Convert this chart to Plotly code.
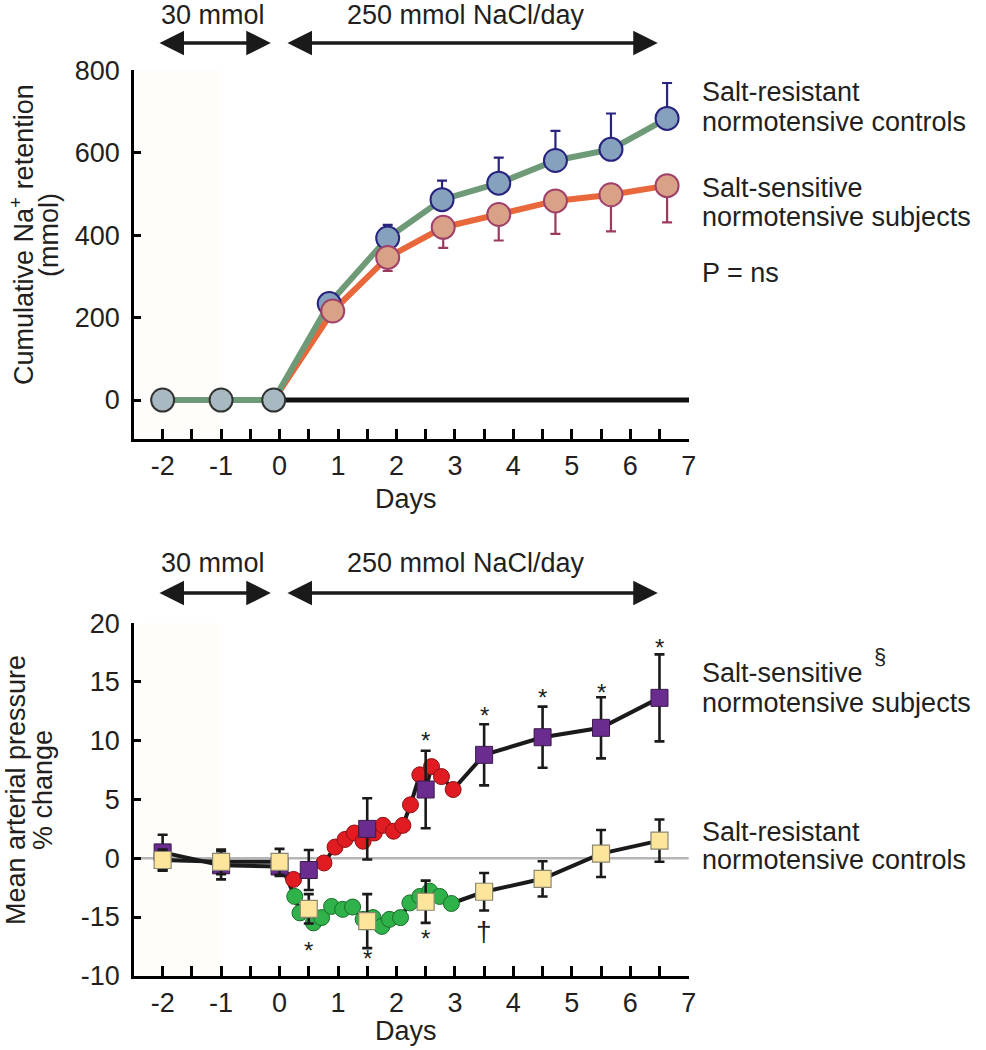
import plotly.graph_objects as go

# ---------------- Top panel: cumulative Na+ retention (mmol) ----------------
pre_days = [-2, -1, -0.1]
pre_vals = [0, 0, 0]
res_days = [0.85, 1.85, 2.78, 3.75, 4.72, 5.67, 6.63]
res_vals = [234, 393, 486, 526, 581, 608, 683]
res_err = [0, 32, 46, 62, 72, 87, 86]
sen_days = [0.91, 1.85, 2.80, 3.75, 4.72, 5.67, 6.63]
sen_vals = [216, 346, 419, 450, 483, 498, 520]
sen_err = [0, 33, 50, 63, 80, 89, 89]
baseline_days = [0, 7.1]
baseline_vals = [0, 0]
top_tickvals = [0, 200, 400, 600, 800]

# ---------------- Bottom panel: mean arterial pressure % change ----------------
sq_days = [-2, -1, 0, 0.5, 1.5, 2.5, 3.5, 4.5, 5.5, 6.5]
ss_map = [0.5, -0.6, -0.7, -1.0, 2.5, 5.85, 8.8, 10.3, 11.1, 13.65]
ss_map_err = [1.5, 1.2, 0.8, 1.7, 2.6, 3.3, 2.6, 2.6, 2.6, 3.7]
sr_map = [-0.15, -0.3, -0.3, -4.3, -5.35, -3.7, -2.85, -1.75, 0.4, 1.5]
sr_map_err = [0.9, 1.05, 1.1, 1.25, 2.3, 1.8, 1.6, 1.5, 2.0, 1.8]

red_days = [0.24, 0.76, 0.95, 1.12, 1.28, 1.43, 1.62, 1.77, 1.95, 2.11, 2.24, 2.40, 2.60, 2.77, 2.97]
red_vals = [-1.8, -0.4, 0.95, 1.6, 2.15, 1.45, 2.15, 2.8, 2.3, 2.8, 4.55, 7.1, 7.8, 6.95, 5.85]
green_days = [0.26, 0.35, 0.58, 0.72, 0.89, 1.08, 1.25, 1.43, 1.60, 1.75, 1.88, 2.07, 2.23, 2.40, 2.57, 2.74, 2.94]
green_vals = [-3.25, -4.65, -5.5, -5.05, -4.1, -4.35, -4.15, -5.2, -5.05, -5.8, -5.2, -5.05, -3.8, -3.25, -2.8, -3.25, -3.85]

bot_tickvals = [-10, -5, 0, 5, 10, 15, 20]
bot_ticktext = ["-10", "-15", "0", "5", "10", "15", "20"]
day_tickvals = [-2, -1, 0, 1, 2, 3, 4, 5, 6, 7]
day_ticktext = ["-2", "-1", "0", "1", "2", "3", "4", "5", "6", "7"]

star_days = [2.5, 3.5, 4.5, 5.5, 6.5, 0.5, 1.5, 2.5]
star_vals = [10.5, 12.7, 14.2, 14.6, 18.45, -7.3, -8.05, -6.35]
dagger_day = 3.5
dagger_val = -6.2

day_range = [-2.49, 7.005]

FONT = "Liberation Sans, Arial, Helvetica, sans-serif"
TXT = "#231f20"
FS = 27

W, H = 986, 1050


def px(xp):
    return xp / W


def py(yp):
    return 1 - yp / H


fig = go.Figure()

# ---- top traces
fig.add_trace(go.Scatter(x=baseline_days, y=baseline_vals, mode="lines",
                         line=dict(color="#111111", width=5), xaxis="x", yaxis="y",
                         hoverinfo="skip"))
fig.add_trace(go.Scatter(x=pre_days + sen_days, y=pre_vals + sen_vals, mode="lines",
                         line=dict(color="#e8683c", width=6), xaxis="x", yaxis="y"))
fig.add_trace(go.Scatter(x=pre_days + res_days, y=pre_vals + res_vals, mode="lines",
                         line=dict(color="#6f9a78", width=6), xaxis="x", yaxis="y"))
fig.add_trace(go.Scatter(x=res_days, y=res_vals, mode="markers",
                         marker=dict(size=23, color="#86a1be", line=dict(color="#27237f", width=2)),
                         error_y=dict(type="data", symmetric=False, array=res_err,
                                      arrayminus=[0] * len(res_err), color="#27237f",
                                      thickness=2.2, width=5),
                         xaxis="x", yaxis="y"))
fig.add_trace(go.Scatter(x=sen_days, y=sen_vals, mode="markers",
                         marker=dict(size=23, color="#d9a287", line=dict(color="#a0416a", width=2)),
                         error_y=dict(type="data", symmetric=False, array=[0] * len(sen_err),
                                      arrayminus=sen_err, color="#9b3a5e",
                                      thickness=2.2, width=5),
                         xaxis="x", yaxis="y"))
fig.add_trace(go.Scatter(x=pre_days, y=pre_vals, mode="markers",
                         marker=dict(size=23, color="#a9b9c1", line=dict(color="#333333", width=2)),
                         xaxis="x", yaxis="y"))

# ---- bottom traces
ss_seq = sorted(zip(sq_days + red_days, ss_map + red_vals))
sr_seq = sorted(zip(sq_days + green_days, sr_map + green_vals))
fig.add_trace(go.Scatter(x=[p[0] for p in ss_seq], y=[p[1] for p in ss_seq], mode="lines",
                         line=dict(color="#1a1a1a", width=4), xaxis="x2", yaxis="y2"))
fig.add_trace(go.Scatter(x=[p[0] for p in sr_seq], y=[p[1] for p in sr_seq], mode="lines",
                         line=dict(color="#1a1a1a", width=4), xaxis="x2", yaxis="y2"))
fig.add_trace(go.Scatter(x=red_days, y=red_vals, mode="markers",
                         marker=dict(size=16, color="#e01b22", line=dict(color="#8c1216", width=1)),
                         xaxis="x2", yaxis="y2"))
fig.add_trace(go.Scatter(x=green_days, y=green_vals, mode="markers",
                         marker=dict(size=16, color="#2fb24a", line=dict(color="#1b6b2b", width=1)),
                         xaxis="x2", yaxis="y2"))
fig.add_trace(go.Scatter(x=sq_days, y=ss_map, mode="markers",
                         marker=dict(symbol="square", size=17, color="#6a2c8e",
                                     line=dict(color="#3a1a4a", width=1)),
                         error_y=dict(type="data", array=ss_map_err, color="#1a1a1a",
                                      thickness=2.6, width=5),
                         xaxis="x2", yaxis="y2"))
fig.add_trace(go.Scatter(x=sq_days, y=sr_map, mode="markers",
                         marker=dict(symbol="square", size=17, color="#fde59c",
                                     line=dict(color="#8a8770", width=1.2)),
                         error_y=dict(type="data", array=sr_map_err, color="#1a1a1a",
                                      thickness=2.6, width=5),
                         xaxis="x2", yaxis="y2"))

# ---- axes
xcommon = dict(range=day_range, showgrid=False, zeroline=False, showline=True,
               linecolor="black", linewidth=2.5, ticks="inside", ticklen=10, tickwidth=2.5,
               tickcolor="black", tickvals=day_tickvals, ticktext=day_ticktext,
               ticklabelstandoff=1, automargin=False,
               tickfont=dict(family=FONT, size=FS, color=TXT),
               minor=dict(dtick=0.5, tick0=0, ticks="inside", ticklen=10, tickwidth=2.5,
                          tickcolor="black"))
ycommon = dict(showgrid=False, zeroline=False, showline=True, linecolor="black",
               linewidth=2.5, ticks="inside", ticklen=7, tickwidth=2.5, tickcolor="black",
               ticklabelstandoff=6, automargin=False,
               tickfont=dict(family=FONT, size=FS, color=TXT))

fig.update_layout(
    width=W, height=H, margin=dict(l=0, r=0, t=0, b=0, pad=0, autoexpand=False),
    paper_bgcolor="white", plot_bgcolor="white", showlegend=False,
    font=dict(family=FONT, size=FS, color=TXT),
    xaxis=dict(domain=[px(134), px(689)], anchor="y", **xcommon),
    yaxis=dict(domain=[py(439), py(70)], anchor="x", range=[-94.5, 800.5],
               tickvals=top_tickvals, **ycommon),
    xaxis2=dict(domain=[px(134), px(689)], anchor="y2", **xcommon),
    yaxis2=dict(domain=[py(976), py(623)], anchor="x2", range=[-10.02, 20.02],
                tickvals=bot_tickvals, ticktext=bot_ticktext, **ycommon),
)

shapes = [
    dict(type="rect", xref="x", yref="y", x0=-2.45, x1=-1.0, y0=-94.5, y1=800,
         fillcolor="#fffdf9", line=dict(width=0), layer="below"),
    dict(type="rect", xref="x2", yref="y2", x0=-2.45, x1=-1.0, y0=-10, y1=20,
         fillcolor="#fffdf9", line=dict(width=0), layer="below"),
    dict(type="line", xref="x2", yref="y2", x0=day_range[0], x1=7.0, y0=0, y1=0,
         line=dict(color="#b5b5b5", width=2.5), layer="below"),
]
fig.update_layout(shapes=shapes)

ann = []


def txt(x, y, s, size=FS, xanchor="center", yanchor="middle", angle=0, xref="paper", yref="paper", yshift=0):
    ann.append(dict(x=x, y=y, xref=xref, yref=yref, text=s, showarrow=False, xanchor=xanchor,
                    yanchor=yanchor, textangle=angle, yshift=yshift,
                    font=dict(family=FONT, size=size, color=TXT)))


# diet period arrows
low_salt = [-2.08, -0.15]
high_salt = [0.11, 6.47]
for xa, ya in (("x", 43), ("x2", 593)):
    for seg in (low_salt, high_salt):
        ann.append(dict(x=seg[1], ax=seg[0], xref=xa, axref=xa, y=py(ya), ay=0, yref="paper",
                        ayref="pixel", text="", showarrow=True, arrowside="end+start",
                        arrowhead=2, startarrowhead=2, arrowsize=1.4, startarrowsize=1.4,
                        arrowwidth=3.5, arrowcolor="#1a1a1a", standoff=0, startstandoff=0))

for yp in (15, 563):
    txt(px(213), py(yp), "30 mmol")
    txt(px(466), py(yp), "250 mmol NaCl/day")

# axis titles
txt(px(22), py(235), "Cumulative Na<sup>+</sup> retention", angle=-90)
txt(px(49), py(235), "(mmol)", angle=-90)
txt(px(16), py(790), "Mean arterial pressure", angle=-90)
txt(px(43), py(790), "% change", angle=-90)
txt(px(406), py(499), "Days")
txt(px(406), py(1031), "Days")

# legend-like labels
txt(px(700), py(92), "Salt-resistant", xanchor="left")
txt(px(700), py(122), "normotensive controls", xanchor="left")
txt(px(700), py(188), "Salt-sensitive", xanchor="left")
txt(px(700), py(217), "normotensive subjects", xanchor="left")
txt(px(700), py(273), "P = ns", xanchor="left")

txt(px(700), py(673), "Salt-sensitive", xanchor="left")
txt(px(700), py(703), "normotensive subjects", xanchor="left")
txt(px(880), py(656), "§", size=22)
txt(px(700), py(832), "Salt-resistant", xanchor="left")
txt(px(700), py(860), "normotensive controls", xanchor="left")

# significance marks
for d, v in zip(star_days, star_vals):
    txt(d, v, "*", size=24, xref="x2", yref="y2", yshift=-6)
txt(dagger_day, dagger_val, "†", size=28, xref="x2", yref="y2")

fig.update_layout(annotations=ann)
fig.write_html("out.html", config={"displayModeBar": False},
               post_script="document.body.style.margin='0px';document.body.style.padding='0px';")
